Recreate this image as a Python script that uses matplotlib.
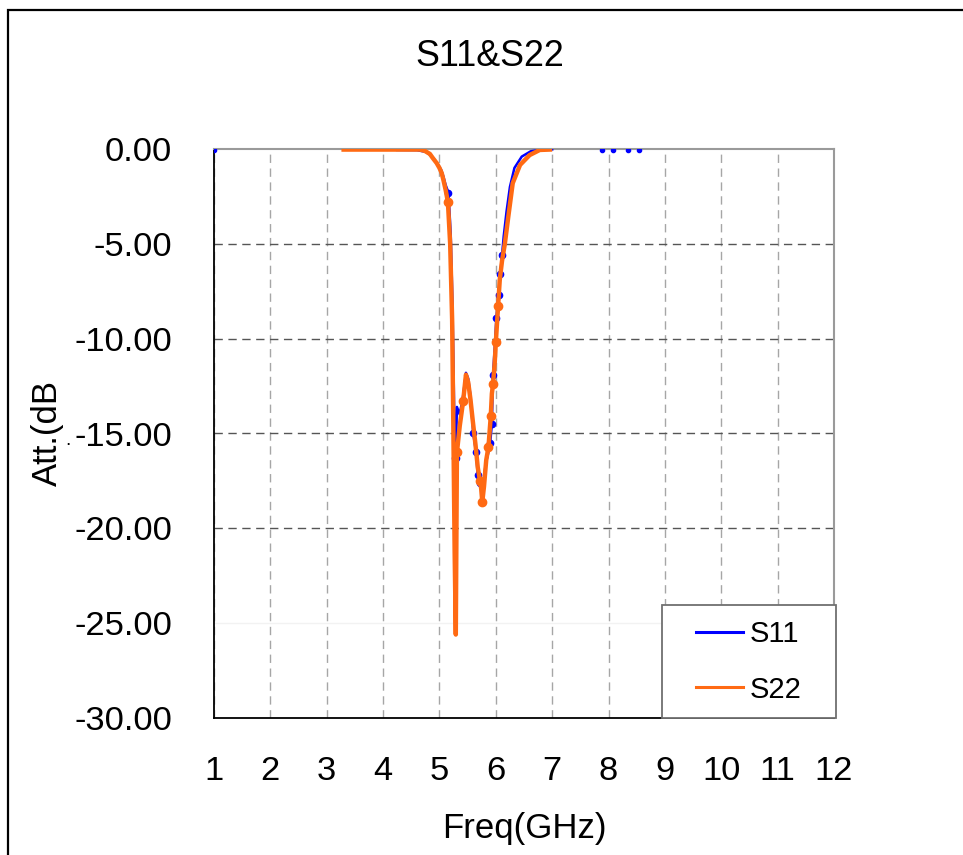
import matplotlib
matplotlib.use("Agg")
import matplotlib.pyplot as plt
from matplotlib.patches import Rectangle
import numpy as np

plt.rcParams['font.family'] = ['Liberation Sans', 'DejaVu Sans']
plt.rcParams['axes.unicode_minus'] = False

# ---- data ----
s22_freq = [3.30, 3.60, 4.00, 4.40, 4.65, 4.74, 4.83, 4.88, 4.95, 5.00, 5.04, 5.07,
            5.11, 5.15, 5.19, 5.225, 5.245, 5.27, 5.29, 5.31, 5.36, 5.42, 5.47, 5.51,
            5.55, 5.59, 5.64, 5.68, 5.72, 5.74, 5.76, 5.79, 5.83, 5.87, 5.91, 5.93,
            5.95, 5.98, 6.00, 6.04, 6.07, 6.11, 6.16, 6.22, 6.30, 6.43, 6.60, 6.78, 6.96]
s22_db = [-0.03, -0.03, -0.03, -0.03, -0.03, -0.1, -0.26, -0.47, -0.74, -1.0, -1.27, -1.63,
          -2.16, -2.8, -5.0, -9.0, -14.3, -21.3, -25.6, -16.0, -14.6, -13.3, -11.9, -12.3,
          -13.2, -14.3, -15.6, -16.8, -17.5, -17.9, -18.6, -17.8, -16.4, -15.7, -14.1, -12.9,
          -12.4, -11.3, -10.2, -8.3, -6.9, -5.9, -5.0, -3.6, -1.8, -0.84, -0.32, -0.05, -0.03]
s22_mark = [13, 19, 21, 28, 30, 33, 34, 36, 38, 39]

s11_freq = [4.25, 4.60, 4.76, 4.85, 4.92, 4.98, 5.03, 5.07, 5.11, 5.16, 5.20, 5.23, 5.25,
            5.26, 5.275, 5.29, 5.31, 5.36, 5.42, 5.47, 5.51, 5.55, 5.60, 5.65, 5.68, 5.72,
            5.75, 5.78, 5.82, 5.86, 5.90, 5.93, 5.95, 5.98, 6.01, 6.05, 6.08, 6.11,
            6.14, 6.19, 6.25, 6.33, 6.46, 6.62, 6.80, 7.00]
s11_db = [-0.05, -0.06, -0.15, -0.35, -0.6, -0.85, -1.1, -1.45, -1.9, -2.3, -4.5, -8.0, -11.6,
          -13.6, -16.3, -16.3, -13.6, -14.0, -13.0, -11.8, -12.1, -13.0, -15.0, -16.0, -17.2,
          -17.6, -18.0, -17.6, -16.6, -16.1, -15.5, -14.5, -11.9, -10.5, -8.9, -7.7, -6.6, -5.6,
          -4.6, -3.3, -2.0, -1.0, -0.4, -0.12, -0.04, -0.02]
s11_mark = [9, 14, 15, 22, 23, 24, 25, 30, 31, 32, 34, 35, 36, 37]
s11_stray_freq = [1.00, 7.88, 8.08, 8.35, 8.54]
s11_stray_db = [-0.05, -0.05, -0.05, -0.05, -0.05]

x_ticks = list(range(1, 13))
y_ticks = [0, -5, -10, -15, -20, -25, -30]

# ---- figure ----
W, H = 963, 855
fig = plt.figure(figsize=(W / 100, H / 100), dpi=100)
ax = fig.add_axes([214 / W, 1 - 718 / H, (834 - 214) / W, (718 - 149) / H])

BLUE = '#0000ff'
ORANGE = '#ff6a13'

ax.plot(s11_freq, s11_db, color=BLUE, lw=1.8, marker='o', ms=4.5,
        markevery=s11_mark, label='S11', zorder=3)
ax.plot(s11_stray_freq, s11_stray_db, color=BLUE, lw=0, marker='o', ms=3,
        zorder=3)
ax.plot(s22_freq, s22_db, color=ORANGE, lw=3.2, marker='o', ms=6,
        markevery=s22_mark, label='S22', zorder=4)

ax.set_xlim(1, 12)
ax.set_ylim(-30, 0)
ax.set_xticks(x_ticks)
ax.set_yticks(y_ticks)
ax.set_xticklabels([str(v) for v in x_ticks])
ax.set_yticklabels(['%.2f' % v for v in y_ticks])
ax.tick_params(axis='both', length=0, labelsize=24.8, colors='black')
ax.tick_params(axis='y', pad=30)
ax.tick_params(axis='x', pad=27)

ax.set_axisbelow(True)
ax.xaxis.grid(True, color='#a6a6a6', lw=1.0, linestyle=(0, (6, 4)))
ax.yaxis.grid(True, color='#555555', lw=1.0, linestyle=(0, (6, 4)))
for v, gl in zip(y_ticks, ax.yaxis.get_gridlines()):
    if v == -25:
        gl.set_color('#f2f2f2')
        gl.set_linestyle('-')
    if v in (0, -30):
        gl.set_visible(False)

for s in ('left', 'bottom'):
    ax.spines[s].set_color('black')
    ax.spines[s].set_linewidth(1.3)
for s in ('top', 'right'):
    ax.spines[s].set_color('#9a9a9a')
    ax.spines[s].set_linewidth(1.5)

# legend box (fixed size like the reference) and entries
px_x = lambda p: (p - 214) / (834 - 214)
px_y = lambda p: (718 - p) / (718 - 149)
box = Rectangle((px_x(662), px_y(718)), px_x(836) - px_x(662), px_y(605) - px_y(718),
                transform=ax.transAxes, facecolor='white', edgecolor='#707070',
                linewidth=1.3, clip_on=False, zorder=8)
ax.add_patch(box)
leg = ax.legend(loc='center', bbox_to_anchor=(px_x(749), px_y(662)),
                fontsize=21, frameon=False, handlelength=1.61, handletextpad=0.24,
                labelspacing=0.94, borderpad=0.0, borderaxespad=0)
leg.set_zorder(10)
for h in leg.get_lines():
    h.set_marker('')
    h.set_linewidth(2.2)

fig.text(490 / W, 1 - 57 / H, 'S11&S22', ha='center', va='center', fontsize=25.8)
fig.text(47 / W, 1 - 433 / H, 'Att.(dB', ha='center', va='center', rotation=90,
         fontsize=25)
fig.text(68 / W, 1 - 440 / H, '.', ha='center', va='center', fontsize=14)
fig.text(524 / W, 1 - 828 / H, 'Freq(GHz)', ha='center', va='center', fontsize=25)

fig.patches.append(Rectangle((8 / W, -0.05), 1.2, 1 - 10 / H + 0.05,
                             transform=fig.transFigure, fill=False,
                             edgecolor='black', linewidth=1.6))

fig.savefig('out.png', dpi=100)
